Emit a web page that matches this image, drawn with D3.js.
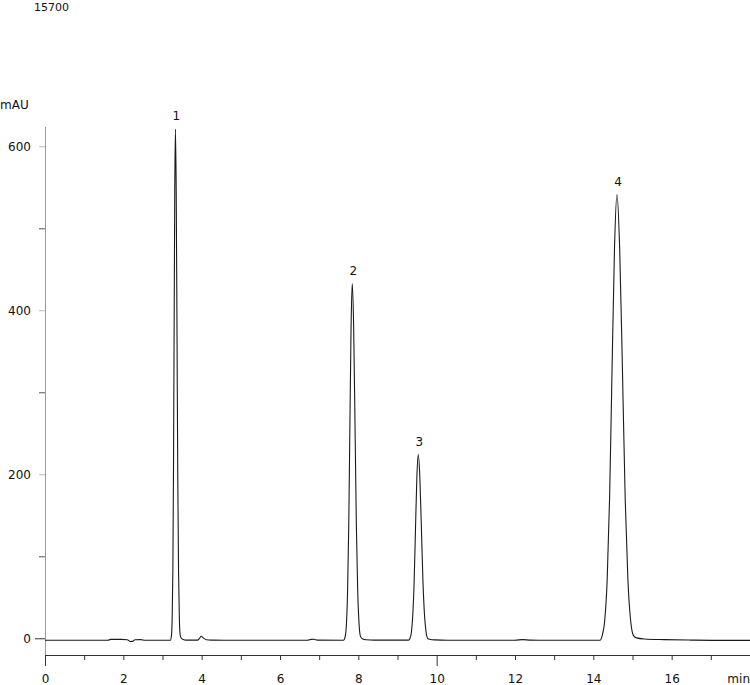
<!DOCTYPE html>
<html>
<head>
<meta charset="utf-8">
<script src="https://cdn.jsdelivr.net/npm/d3@7"></script>
<style>
  body { margin: 0; background: #fff; }
  svg text { font-family: "DejaVu Sans", Verdana, sans-serif; fill: #111; }
</style>
</head>
<body>
<svg id="chart" width="750" height="685"></svg>
<script>
// sample id and axis titles
const sampleId = "15700";
const yTitle = "mAU";
const xTitle = "min";

// tick values
const xTicks = [0, 2, 4, 6, 8, 10, 12, 14, 16];
const xMinorTicks = [1, 3, 5, 7, 9, 11, 13, 15, 17];
const xLongTicks = [0, 10];
const yTicks = [0, 200, 400, 600];
const yMinorTicks = [100, 300, 500];

// peaks: number, retention time (min), apex (mAU)
const peakLabels = ["1", "2", "3", "4"];
const peakTimes = [3.33, 7.845, 9.53, 14.603];
const peakApex = [621, 432.5, 224, 541];

// detector trace: [min, mAU]
const trace = [
  [0, -2.5], [1.6, -2.5], [1.68, -1.4], [1.95, -1.4], [2.1, -1.8], [2.18, -4.0],
  [2.23, -3.8], [2.3, -1.8], [2.45, -1.6], [2.55, -2.5], [3.15, -2.5],
  // peak 1
  [3.2, -2.4], [3.231, 4.5], [3.247, 25], [3.264, 81], [3.28, 197], [3.297, 378],
  [3.313, 546], [3.33, 621], [3.35, 546], [3.37, 378], [3.39, 197], [3.41, 81],
  [3.43, 25], [3.45, 4.5], [3.48, 0], [3.53, -1.5], [3.6, -2.3],
  [3.9, -2.2], [3.95, 0.3], [3.99, 2.4], [4.05, 0.2], [4.12, -1.8], [4.25, -2.3],
  [4.6, -2.5], [6.7, -2.5], [6.8, -1.3], [6.87, -1.2], [6.95, -2.3], [7.62, -2.5],
  // peak 2
  [7.665, 2.3], [7.695, 16.6], [7.725, 56], [7.755, 136.5], [7.785, 261],
  [7.815, 381], [7.845, 432.5], [7.88, 381], [7.915, 261], [7.95, 136.5],
  [7.985, 56], [8.02, 16.6], [8.055, 2.3], [8.1, -0.5], [8.2, -1.8], [8.4, -2.3],
  [9.28, -2.3],
  // peak 3
  [9.32, 0], [9.355, 7.4], [9.39, 28], [9.425, 69.5], [9.46, 134.5], [9.495, 197],
  [9.53, 224], [9.57, 197], [9.61, 134.5], [9.65, 69.5], [9.69, 28], [9.73, 7.4],
  [9.77, 0], [9.82, -1.2], [9.95, -2.0], [10.3, -2.4], [12.0, -2.4], [12.2, -1.6],
  [12.4, -2.3], [14.17, -2.4],
  // peak 4
  [14.228, 3.5], [14.29, 21.3], [14.353, 70.7], [14.415, 171], [14.478, 328],
  [14.54, 474.5], [14.603, 541], [14.673, 474.5], [14.743, 328], [14.813, 171],
  [14.883, 70.7], [14.953, 21.3], [15.023, 3.5], [15.1, 0.5], [15.3, -0.8],
  [15.8, -1.6], [16.5, -2.2], [17.3, -2.6], [18, -2.6]
];

// ------
// scales
let x = d3.scaleLinear().domain([0, 18]).range([45, 750]);
let y = d3.scaleLinear().domain([-20.4, 623.5]).range([655, 127]);

let svg = d3.select('#chart');

// sample id at the very top
svg.append('text')
  .attr('x', 34).attr('y', 11)
  .style('font-size', '11px')
  .text(sampleId);

// y title
svg.append('text')
  .attr('x', 0).attr('y', 109)
  .style('font-size', '12px')
  .text(yTitle);

// ------
// y axis
let yAxis = svg.append('g')
  .attr('transform', 'translate(45,0)')
  .call(d3.axisLeft(y).tickValues(yTicks).tickSize(6).tickPadding(8).tickSizeOuter(0));
yAxis.select('.domain').remove();
yAxis.selectAll('.tick line').attr('stroke', '#bbb');
yAxis.selectAll('.tick line').filter(d => d === 0).attr('stroke', '#333').attr('x2', -10);
yAxis.selectAll('.tick text')
  .style('font-size', '12px')
  .style('font-family', '"DejaVu Sans", Verdana, sans-serif')
  .attr('x', -14);

svg.append('g')
  .attr('transform', 'translate(45,0)')
  .call(d3.axisLeft(y).tickValues(yMinorTicks).tickSize(6).tickFormat('').tickSizeOuter(0))
  .call(g => g.select('.domain').remove())
  .selectAll('.tick line').attr('stroke', '#555');

svg.append('line')
  .attr('x1', 45.5).attr('x2', 45.5)
  .attr('y1', y.range()[1]).attr('y2', y.range()[0])
  .attr('stroke', '#999');

// ------
// x axis
let xAxis = svg.append('g')
  .attr('transform', 'translate(0,655)')
  .call(d3.axisBottom(x).tickValues(xTicks).tickSize(5).tickPadding(14).tickSizeOuter(0));
xAxis.select('.domain').attr('stroke', '#333');
xAxis.selectAll('.tick line').attr('stroke', '#333');
xAxis.selectAll('.tick line').filter(d => xLongTicks.includes(d)).attr('y2', 11);
xAxis.selectAll('.tick text')
  .style('font-size', '12px')
  .style('font-family', '"DejaVu Sans", Verdana, sans-serif');

svg.append('g')
  .attr('transform', 'translate(0,655)')
  .call(d3.axisBottom(x).tickValues(xMinorTicks).tickSize(5).tickFormat('').tickSizeOuter(0))
  .call(g => g.select('.domain').remove())
  .selectAll('.tick line').attr('stroke', '#333');

svg.append('text')
  .attr('x', 750).attr('y', 682.5)
  .attr('text-anchor', 'end')
  .style('font-size', '12px')
  .text(xTitle);

// ------
// the trace
let line = d3.line()
  .x(d => x(d[0]))
  .y(d => y(d[1]))
  .curve(d3.curveMonotoneX);

svg.append('path')
  .datum(trace)
  .attr('d', line)
  .attr('fill', 'none')
  .attr('stroke', '#1a1a1a')
  .attr('stroke-width', 1.1);

// peak numbers above each apex
svg.selectAll('text.peak')
  .data(peakLabels)
  .enter()
  .append('text')
  .attr('class', 'peak')
  .attr('x', (d, i) => x(peakTimes[i]) + 1)
  .attr('y', (d, i) => y(peakApex[i]) - 9)
  .attr('text-anchor', 'middle')
  .style('font-size', '12px')
  .text(d => d);
</script>
</body>
</html>
